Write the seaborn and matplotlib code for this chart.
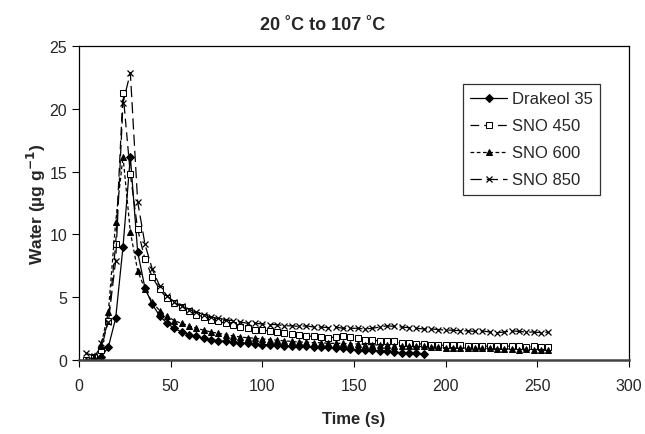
import numpy as np
import pandas as pd
import matplotlib
matplotlib.use("Agg")
import matplotlib.pyplot as plt
import seaborn as sns

# time grid (s), one reading every 4 s
time_all = list(range(4, 260, 4))
time_drakeol = list(range(8, 192, 4))

drakeol_35 = [0.0, 0.2, 1.0, 3.3, 9.0, 16.2, 8.6, 5.7, 4.4, 3.5, 2.9, 2.5, 2.2, 2.0,
              1.85, 1.7, 1.6, 1.5, 1.45, 1.4, 1.35, 1.3, 1.25, 1.2, 1.2, 1.15, 1.1,
              1.1, 1.05, 1.05, 1.0, 1.0, 1.0, 0.95, 0.9, 0.85, 0.8, 0.8, 0.75, 0.7,
              0.65, 0.6, 0.55, 0.55, 0.5, 0.45]

sno_450 = [0.0, 0.2, 0.8, 3.1, 9.2, 21.3, 14.8, 10.4, 8.0, 6.6, 5.6, 4.9, 4.5, 4.2,
           3.9, 3.6, 3.4, 3.2, 3.05, 2.9, 2.75, 2.6, 2.5, 2.4, 2.35, 2.3, 2.2, 2.1,
           2.05, 1.95, 1.9, 1.85, 1.8, 1.75, 1.8, 1.85, 1.8, 1.7, 1.6, 1.55, 1.5,
           1.5, 1.45, 1.3, 1.3, 1.25, 1.25, 1.2, 1.15, 1.15, 1.15, 1.2, 1.1, 1.05,
           1.1, 1.05, 1.05, 1.1, 1.05, 1.1, 1.0, 1.05, 1.0, 1.0]

sno_600 = [0.0, 0.1, 1.1, 3.8, 11.0, 16.2, 10.2, 7.1, 5.6, 4.6, 3.9, 3.5, 3.1, 2.9,
           2.7, 2.5, 2.35, 2.2, 2.1, 2.0, 1.9, 1.8, 1.75, 1.7, 1.65, 1.6, 1.55, 1.5,
           1.45, 1.4, 1.4, 1.35, 1.35, 1.3, 1.3, 1.3, 1.25, 1.25, 1.2, 1.2, 1.15,
           1.15, 1.1, 1.1, 1.05, 1.05, 1.05, 1.0, 1.0, 0.95, 0.95, 0.9, 0.95, 0.9,
           0.9, 0.9, 0.85, 0.85, 0.85, 0.8, 0.85, 0.8, 0.8, 0.8]

sno_850 = [0.5, 0.3, 1.3, 3.0, 7.9, 20.5, 22.9, 12.6, 9.2, 7.2, 5.9, 5.1, 4.6, 4.3,
           4.0, 3.8, 3.6, 3.4, 3.3, 3.2, 3.1, 3.0, 2.9, 2.9, 2.85, 2.8, 2.8, 2.7,
           2.7, 2.65, 2.7, 2.6, 2.6, 2.55, 2.6, 2.5, 2.5, 2.5, 2.45, 2.5, 2.6, 2.7,
           2.65, 2.6, 2.55, 2.5, 2.45, 2.45, 2.4, 2.35, 2.35, 2.3, 2.3, 2.25, 2.3,
           2.2, 2.15, 2.2, 2.3, 2.25, 2.2, 2.2, 2.15, 2.2]

sns.set_style("ticks")
plt.rcParams['font.family'] = ['Liberation Sans', 'DejaVu Sans']

fig = plt.figure(figsize=(6.45, 4.35), dpi=100)
ax = fig.add_axes([0.1225, 0.171, 0.8525, 0.72])

series = [
    ("Drakeol 35", time_drakeol, drakeol_35,
     dict(linestyle="-", marker="D", markersize=3.8, markerfacecolor="black")),
    ("SNO 450", time_all, sno_450,
     dict(linestyle=(0, (7, 4)), marker="s", markersize=5, markerfacecolor="white")),
    ("SNO 600", time_all, sno_600,
     dict(linestyle=(0, (3, 2)), marker="^", markersize=5, markerfacecolor="black")),
    ("SNO 850", time_all, sno_850,
     dict(linestyle=(0, (9, 4)), marker="x", markersize=5, markeredgewidth=0.9)),
]

for name, t, vals, style in series:
    df = pd.DataFrame({"time": t, "water": vals})
    sns.lineplot(data=df, x="time", y="water", ax=ax, color="black",
                 linewidth=0.9, markeredgecolor="black", label=name,
                 sort=False, errorbar=None, **style)

ax.set_xlim(0, 300)
ax.set_ylim(0, 25)
ax.set_xticks(np.arange(0, 301, 50))
ax.set_yticks(np.arange(0, 26, 5))
ax.tick_params(labelsize=11.5, length=5, width=0.8, color="black")
ax.tick_params(axis="x", pad=8)
for side in ["top", "right", "left"]:
    ax.spines[side].set_color("black")
    ax.spines[side].set_linewidth(0.9)
ax.spines["bottom"].set_color("#444444")
ax.spines["bottom"].set_linewidth(1.8)

ax.set_xlabel("Time (s)", fontsize=12, fontweight="bold", labelpad=13)
ax.set_ylabel("Water (µg g$^{\\mathbf{-1}}$)", fontsize=12.5, fontweight="bold", labelpad=1)
fig.text(0.5, 0.93, "20 ˚C to 107 ˚C", ha="center", va="baseline",
         fontsize=13, fontweight="bold")

leg = ax.legend(loc="upper left", bbox_to_anchor=(0.698, 0.88), frameon=True,
                fancybox=False, edgecolor="black", fontsize=12, handlelength=2.2,
                handletextpad=0.3, borderpad=0.45, labelspacing=0.72, borderaxespad=0)
leg.get_frame().set_linewidth(0.9)

fig.savefig("out.png", dpi=100)
